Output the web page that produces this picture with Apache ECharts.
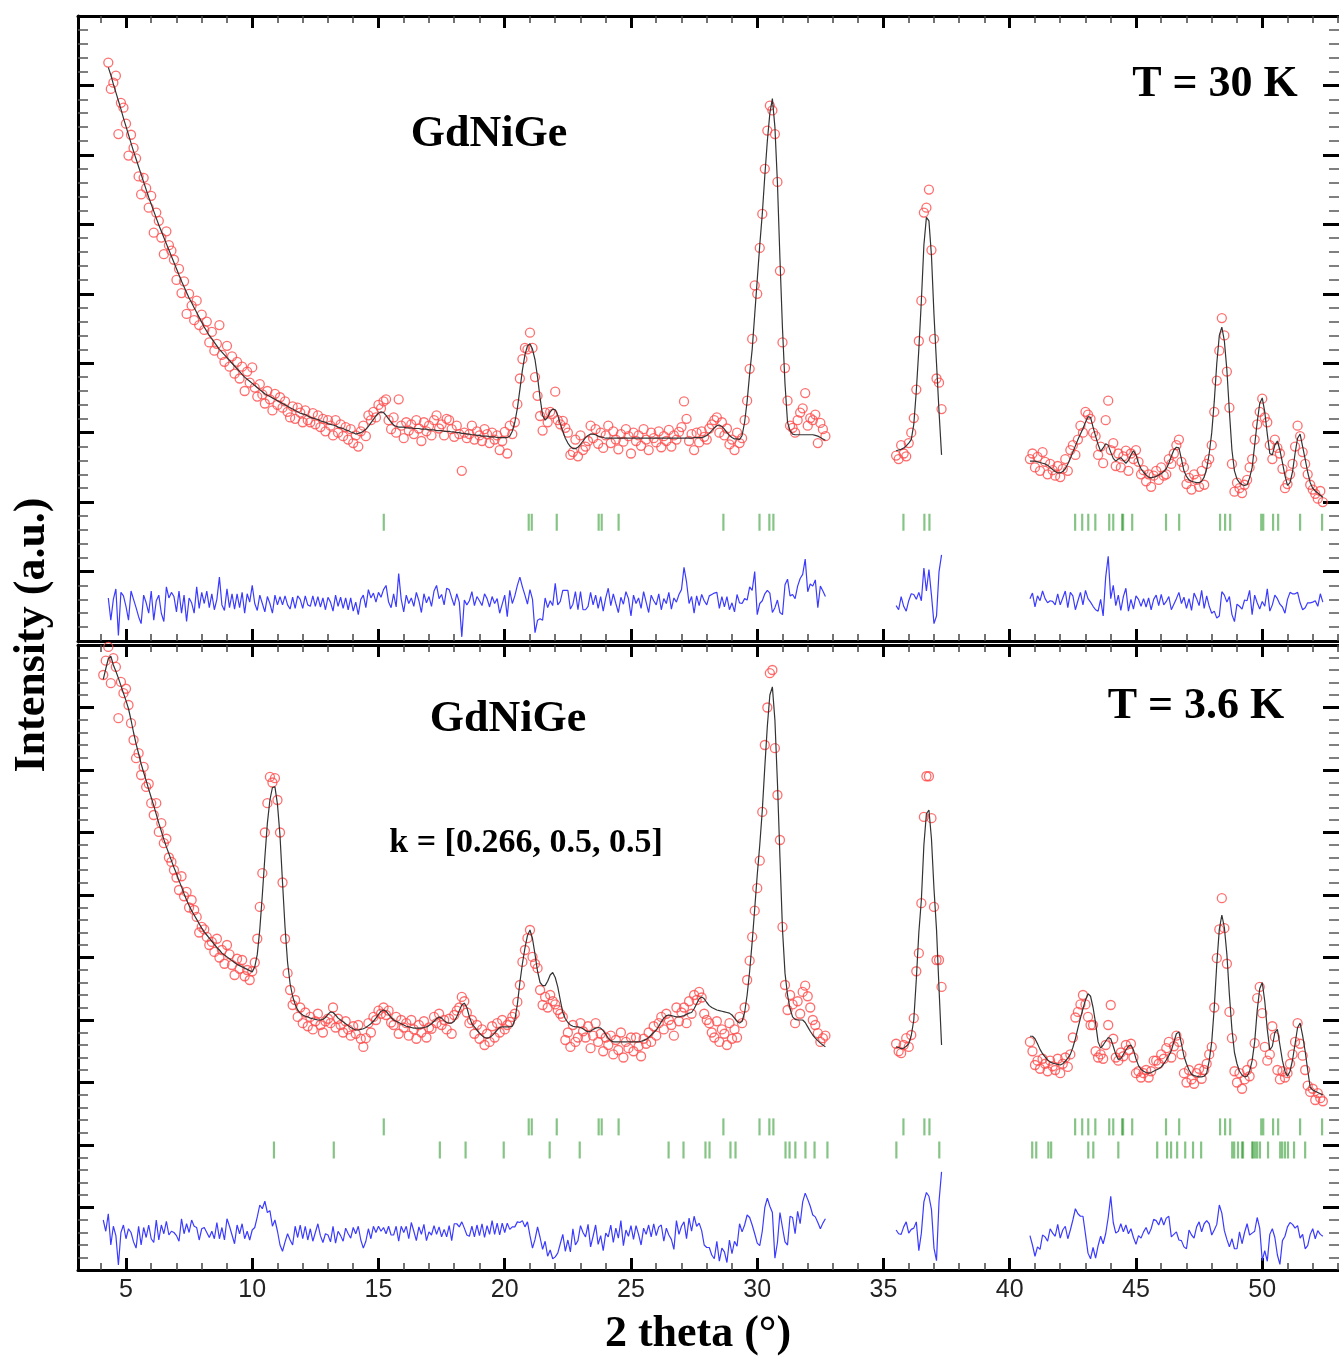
<!DOCTYPE html>
<html>
<head>
<meta charset="utf-8">
<script src="https://cdn.jsdelivr.net/npm/echarts@6/dist/echarts.min.js"></script>
<style>html,body{margin:0;padding:0;background:#fff}#c{width:1339px;height:1360px}</style>
</head>
<body>
<div id="c"></div>
<script>
// ---------------- DATA ----------------
const STEP = 0.1;
const TOP_START = [4.3, 35.5, 40.8];
const BOT_START = [4.1, 35.5, 40.8];
const X_MAJOR = [5, 10, 15, 20, 25, 30, 35, 40, 45, 50];
const X_MINOR = [4,6,7,8,9,11,12,13,14,16,17,18,19,21,22,23,24,26,27,28,29,31,32,33,34,36,37,38,39,41,42,43,44,46,47,48,49,51,52,53];

// T = 30 K panel
const topObs1 = [
833,795,804,814,730,775,768,745,699,729,
710,695,669,643,667,652,624,641,588,617,
605,581,557,590,570,562,549,520,536,501,
518,471,500,483,462,490,455,470,448,460,
430,445,418,428,455,412,402,425,395,410,
385,402,378,395,360,388,372,394,365,352,
370,355,342,360,348,332,356,340,351,336,
345,330,322,338,320,336,329,315,332,318,
315,328,312,325,308,320,302,318,310,296,
318,300,312,295,308,290,305,285,296,280,
302,310,295,325,318,330,322,340,335,345,
348,318,305,322,300,348,310,292,315,303,
312,298,318,306,288,315,302,310,296,318,
325,306,312,296,320,318,305,294,310,298,
245,300,292,298,310,290,302,296,288,305,
298,285,300,290,296,275,288,301,270,310,
298,315,341,378,406,422,420,444,422,380,
353,324,303,329,315,330,327,359,318,312,
317,307,300,268,272,290,266,296,275,280,
288,310,292,305,284,300,278,296,310,285,
302,290,276,298,287,305,295,270,300,288,
296,281,305,290,275,300,292,286,302,279,
295,288,304,280,296,290,301,308,345,320,
288,298,275,300,286,302,294,290,306,312,
318,322,300,315,296,306,283,290,275,300,
285,292,318,346,392,435,512,500,566,615,
680,735,771,764,730,661,533,430,393,346,
310,307,300,318,329,335,357,310,321,318,
326,285,314,305,295];
const topCalc1 = [
826,815,802,790,778,766,753,741,729,717,
705,694,683,672,661,650,639,629,619,609,
599,590,581,572,563,554,545,536,527,518,
510,502,494,487,480,473,466,459,452,446,
440,435,430,425,420,416,412,408,404,400,
396,392,388,384,380,377,374,371,368,365,
362,359,356,354,352,350,348,346,344,342,
340,338,336,334,332,330,328,327,326,324,
322,321,320,319,317,316,315,313,312,311,
310,308,307,306,304,303,301,300,298,299,
300,302,305,309,314,319,324,328,330,329,
325,320,315,311,309,308,308,308,307,307,
307,306,306,306,305,305,305,304,304,304,
303,303,303,302,302,302,301,301,300,300,
299,299,298,298,297,297,296,296,295,295,
295,294,294,294,293,293,293,293,293,295,
302,315,335,362,390,412,425,428,420,405,
380,350,325,318,322,330,334,333,325,313,
302,292,285,280,277,277,279,283,288,293,
296,298,298,297,295,294,293,292,292,292,
292,292,292,292,292,292,292,292,292,292,
292,292,292,292,292,292,292,292,292,292,
292,292,292,292,292,292,292,292,292,292,
292,292,293,293,293,293,294,296,299,303,
307,310,311,309,305,300,296,293,291,291,
290,296,315,345,385,420,470,520,570,615,
670,720,760,781,740,660,550,450,370,315,
303,298,297,297,297,297,297,297,297,297,
296,295,293,291,289];
const topDiff1 = [
62,30,60,75,8,70,65,50,30,72,
60,48,35,25,66,55,40,72,30,58,
66,40,28,78,62,70,64,42,72,40,
66,28,62,55,40,78,47,70,54,72,
48,68,45,60,92,52,44,75,48,68,
46,68,48,70,40,68,56,80,54,44,
66,54,42,64,54,40,66,52,64,52,
65,52,46,63,47,65,60,47,65,52,
50,65,50,64,49,62,45,63,56,43,
66,50,63,47,62,45,62,43,56,38,
60,66,48,74,62,69,56,70,63,74,
80,56,48,68,49,97,60,42,66,54,
62,50,70,58,41,68,55,64,50,72,
80,61,67,52,76,74,62,51,68,56,
6,59,52,58,71,51,64,58,51,68,
61,49,64,54,61,40,53,66,35,73,
54,65,80,92,78,66,53,74,60,12,
30,32,30,62,48,58,51,83,52,57,
73,73,73,46,53,71,45,71,45,45,
50,70,52,66,47,64,43,62,76,51,
68,54,41,63,53,71,61,36,66,54,
62,47,71,56,41,66,58,52,68,45,
61,54,70,46,62,56,67,74,106,85,
54,64,40,65,51,67,58,52,65,67,
69,70,47,64,49,64,45,55,42,67,
55,54,61,59,78,73,100,38,54,58,
68,73,69,41,48,59,41,38,81,89,
65,67,61,79,90,96,118,71,82,79,
88,48,79,72,64];
const topObs2 = [267,262,282,270,266,285,300,321,362,432,490,617,624,650,563,435,378,372,334];
const topCalc2 = [274,275,276,278,281,285,290,312,360,420,490,570,610,605,555,470,400,330,268];
const topDiff2 = [51,45,64,50,43,58,68,67,60,70,58,105,72,103,66,25,36,100,124];
const topObs3 = [
262,270,250,265,245,272,258,240,255,246,
238,252,236,248,262,245,275,282,268,290,
310,300,330,326,320,300,295,268,280,256,
318,346,275,285,252,270,250,266,274,245,
270,262,275,258,240,246,230,240,222,238,
245,232,250,238,240,262,255,270,282,290,
258,250,226,235,218,240,232,222,245,225,
255,262,282,330,375,418,465,440,388,336,
255,215,228,220,213,225,232,250,262,290,
312,330,349,322,315,282,262,290,278,270,
248,220,226,240,255,280,310,295,272,255,
240,225,218,212,205,216,200];
const topCalc3 = [
259,259,259,258,257,256,255,253,250,247,
244,242,242,244,248,255,263,272,281,290,
298,306,315,323,322,308,295,283,273,278,
284,282,272,263,259,262,264,260,256,260,
268,274,268,256,248,243,239,236,235,236,
237,239,241,244,248,256,266,275,279,278,
262,245,237,232,230,229,228,228,230,236,
248,270,300,345,400,440,452,432,390,330,
275,245,233,228,225,224,225,235,250,282,
315,342,350,330,298,270,268,282,288,275,
257,238,224,228,244,270,292,298,280,262,
243,228,220,216,213,210,207];
const topDiff3 = [
61,69,49,65,58,72,61,55,58,57,
52,68,52,62,72,48,70,65,45,58,
70,52,73,61,56,50,45,43,60,36,
92,122,61,80,51,66,44,64,76,43,
60,46,65,60,50,61,49,62,45,60,
66,51,67,52,57,64,45,53,61,70,
54,63,47,61,44,69,61,51,73,47,
65,50,40,43,33,36,71,66,56,64,
38,28,53,50,46,59,58,73,38,66,
55,46,57,50,75,43,52,66,61,53,
49,40,60,70,68,68,70,55,45,48,
55,55,56,58,50,68,56];

// T = 3.6 K panel
const botObs1 = [
952,975,997,939,979,965,883,941,923,930,
904,875,848,819,827,792,805,773,778,747,
728,747,701,715,683,690,660,653,640,628,
608,630,598,605,580,592,576,565,540,549,
545,533,520,525,509,530,500,512,490,520,
505,488,472,498,482,496,470,480,464,478,
492,530,581,635,700,747,789,780,787,752,
700,620,530,475,448,424,432,405,420,395,
412,390,405,385,398,410,392,380,398,402,
395,420,388,402,392,380,398,385,375,390,
378,392,370,357,371,395,380,405,400,415,
410,420,408,415,396,392,405,378,400,388,
395,375,400,385,370,392,380,398,372,388,
386,405,395,410,392,400,385,402,378,408,
415,420,437,430,412,395,400,378,392,370,
385,360,378,365,390,372,395,380,400,385,
392,397,405,410,429,456,493,512,531,544,
501,490,483,448,424,437,420,440,430,425,
416,410,405,368,380,357,392,365,372,395,
382,372,390,355,375,395,365,378,350,372,
360,375,345,368,352,380,340,365,355,372,
350,372,358,342,370,362,380,365,390,375,
395,405,385,410,400,392,375,420,398,412,
420,395,430,410,440,432,445,436,410,400,
395,380,372,398,365,385,378,360,395,370,
385,372,405,395,420,464,495,533,575,611,
655,733,840,900,955,960,835,760,688,549,
456,416,440,425,395,430,410,445,455,438,
420,400,392,379,365,371,375];
const botCalc1 = [
945,962,978,982,968,958,947,935,923,911,
898,880,860,842,826,810,796,783,769,756,
743,729,715,702,689,677,666,655,644,634,
623,613,602,592,583,575,568,561,554,547,
541,536,531,526,521,516,512,507,504,501,
498,495,492,489,487,485,483,481,479,477,
485,505,545,600,660,715,752,772,773,745,
695,620,548,492,458,438,425,416,411,408,
406,405,403,402,401,400,400,401,404,409,
413,412,408,403,400,397,394,391,388,386,
384,384,385,386,388,391,394,398,403,409,
414,416,414,409,404,400,398,396,394,392,
390,389,388,387,387,387,387,388,389,391,
394,398,402,405,403,399,396,395,395,398,
405,415,424,427,420,405,394,389,384,379,
375,372,371,372,375,379,384,388,389,389,
389,389,390,400,425,460,490,515,535,544,
530,505,478,460,455,455,462,472,476,468,
453,432,412,402,396,392,390,389,389,388,
386,383,381,382,385,387,388,387,383,377,
371,367,365,365,365,365,365,365,365,365,
365,365,365,366,367,369,372,376,380,384,
390,397,403,407,408,407,406,405,405,406,
407,409,411,412,418,426,434,437,434,428,
423,420,418,416,415,414,413,412,411,408,
403,398,395,398,412,440,478,525,578,632,
680,735,805,870,920,933,880,780,660,545,
475,440,418,405,401,400,400,400,396,389,
382,376,371,367,363,360,357];
const botDiff1 = [
80,62,90,40,70,55,8,60,72,50,
66,60,45,35,70,40,68,52,72,50,
44,80,48,72,58,78,56,62,60,55,
46,82,58,74,60,80,70,68,48,66,
68,60,52,62,50,76,50,68,48,82,
70,56,42,72,58,74,50,62,48,64,
68,85,104,98,110,92,95,70,80,62,
40,30,45,58,48,40,70,52,72,50,
70,48,66,46,60,74,55,44,58,56,
45,70,43,62,55,46,67,58,51,68,
58,70,48,35,46,66,50,70,60,70,
62,68,58,70,56,56,70,46,70,60,
70,50,76,62,47,69,57,73,47,61,
56,71,57,69,53,65,53,71,47,74,
74,69,77,67,56,54,70,53,72,55,
74,52,71,57,79,57,75,56,75,60,
75,65,69,69,77,76,79,69,77,55,
35,49,69,52,33,46,22,32,18,21,
27,42,57,30,48,29,66,40,47,71,
60,53,73,37,54,72,41,55,31,59,
53,72,44,67,51,79,39,64,54,71,
49,71,57,40,67,57,72,53,74,55,
69,72,46,67,56,49,33,79,57,70,
77,50,83,62,86,70,75,63,40,36,
36,24,18,46,14,35,29,12,48,26,
46,38,74,61,72,88,84,72,58,43,
39,62,100,115,102,92,19,44,92,68,
45,40,86,84,58,94,74,109,123,113,
102,88,85,76,66,75,82];
const botObs2 = [362,350,347,360,371,357,376,403,478,507,587,725,790,790,723,581,496,496,453];
const botCalc2 = [357,356,354,355,358,362,375,400,465,540,592,680,730,736,690,610,545,450,360];
const botDiff2 = [64,58,57,69,77,59,65,67,77,31,59,109,124,118,97,35,15,110,157];
const botObs3 = [
365,350,328,335,322,338,330,318,335,326,
320,338,315,330,340,325,345,372,404,413,
425,440,425,405,392,392,350,340,345,338,
360,392,424,370,340,335,348,342,360,352,
362,340,315,318,308,315,320,308,318,335,
335,330,345,338,355,365,340,358,375,365,
345,315,300,320,305,298,315,322,306,320,
330,345,357,420,499,545,595,547,490,413,
371,318,300,315,290,305,320,310,330,363,
435,453,411,357,335,345,390,373,320,305,
318,308,315,330,345,365,395,362,343,320,
295,285,290,272,283,275,270];
const botCalc3 = [
374,374,370,362,353,346,341,336,333,331,
330,329,328,330,334,339,345,356,370,387,
403,418,432,442,438,420,395,365,355,360,
366,372,370,358,345,337,338,345,352,358,
360,352,338,327,321,318,316,315,316,318,
320,322,325,330,336,343,351,365,378,381,
362,342,330,320,313,311,310,309,309,310,
315,335,365,420,490,545,568,548,505,440,
385,348,330,318,312,309,310,318,335,365,
415,450,460,430,385,352,358,380,385,360,
335,318,310,318,336,362,388,395,375,350,
320,292,288,286,284,282,280];
const botDiff3 = [
55,40,22,37,33,56,53,46,66,59,
54,73,51,64,70,50,64,80,98,90,
86,86,57,27,18,36,19,39,54,42,
58,84,118,76,59,62,74,61,72,58,
66,52,41,55,51,61,68,57,66,81,
79,72,84,72,83,86,53,57,61,48,
47,37,34,64,56,51,69,77,61,74,
79,74,56,64,73,104,91,63,49,37,
50,34,34,61,42,60,74,56,59,62,
84,67,15,31,14,57,66,52,24,9,
47,54,69,76,73,67,71,51,57,34,
39,57,66,50,63,57,54];

// Bragg reflection positions (2θ)
const nuclearPeaks = [15.21,20.95,21.07,22.06,23.72,23.84,24.51,28.66,30.09,30.48,30.64,35.79,36.62,36.82,42.59,42.87,43.11,43.39,43.94,44.10,44.45,44.49,44.85,46.19,46.71,48.33,48.53,48.73,49.96,50.04,50.43,50.63,51.50,52.37];
const magneticPeaks = [10.86,13.23,17.43,18.45,19.96,21.78,22.97,26.49,27.08,27.95,28.11,28.94,29.14,31.12,31.28,31.51,31.91,32.27,32.78,35.51,37.21,40.89,41.05,41.53,41.64,43.11,43.31,44.30,45.84,46.23,46.39,46.63,46.95,47.26,47.58,48.81,48.89,49.04,49.20,49.24,49.60,49.64,49.72,49.80,49.91,50.23,50.71,50.79,50.90,51.02,51.26,51.70];

// ---------------- CHART ----------------
const XMIN = 3.1, XMAX = 53.04;
const TOP_TICKROW = 171, BOT_TICKROW1 = 229, BOT_TICKROW2 = 192;

function seg(start, vals) { return vals.map((v, i) => [+(start + i * STEP).toFixed(2), v]); }

function xAxes(grid, showLabels) {
  const base = {type: 'value', gridIndex: grid, min: XMIN, max: XMAX, splitLine: {show: false}};
  const lab = {show: false};
  return [
    Object.assign({}, base, {position: 'bottom',
      axisLine: {show: true, onZero: false, lineStyle: {color: '#000', width: 3}},
      axisTick: {show: true, inside: true, length: 12, lineStyle: {color: '#000', width: 3}, customValues: X_MAJOR},
      axisLabel: showLabels ? {show: true, customValues: X_MAJOR, fontFamily: 'Liberation Sans', fontSize: 25, color: '#222', margin: 8} : lab}),
    Object.assign({}, base, {position: 'bottom',
      axisLine: {show: false, onZero: false},
      axisTick: {show: true, inside: true, length: 7, lineStyle: {color: '#444', width: 1.5}, customValues: X_MINOR},
      axisLabel: lab}),
    Object.assign({}, base, {position: 'top',
      axisLine: {show: true, onZero: false, lineStyle: {color: '#000', width: 3}},
      axisTick: {show: true, inside: true, length: 12, lineStyle: {color: '#000', width: 3}, customValues: X_MAJOR},
      axisLabel: lab}),
    Object.assign({}, base, {position: 'top',
      axisLine: {show: false, onZero: false},
      axisTick: {show: true, inside: true, length: 7, lineStyle: {color: '#444', width: 1.5}, customValues: X_MINOR},
      axisLabel: lab})
  ];
}
function yAxes(grid, max) {
  const mk = (pos, line) => ({type: 'value', gridIndex: grid, min: 0, max: max, interval: 100, position: pos,
    axisLine: {show: line, onZero: false, lineStyle: {color: '#000', width: 3}},
    axisTick: {show: true, inside: true, length: 16, lineStyle: {color: '#000', width: 3}},
    minorTick: {show: true, splitNumber: 5, length: 10, lineStyle: {color: '#555', width: 1.5}},
    axisLabel: {show: false}, splitLine: {show: false}});
  return [mk('left', true), mk('right', false)];
}

function panelSeries(xi, yi, starts, obs, calc, diff) {
  const s = [];
  s.push({type: 'scatter', xAxisIndex: xi, yAxisIndex: yi, symbol: 'circle', symbolSize: 9, z: 2,
    itemStyle: {color: 'rgba(255,255,255,0)', borderColor: '#ff4a4a', borderWidth: 1.3},
    data: seg(starts[0], obs[0]).concat(seg(starts[1], obs[1]), seg(starts[2], obs[2]))});
  for (let k = 0; k < 3; k++) {
    s.push({type: 'line', xAxisIndex: xi, yAxisIndex: yi, showSymbol: false, symbol: 'none', z: 3,
      lineStyle: {color: '#333', width: 1.2}, data: seg(starts[k], calc[k])});
    s.push({type: 'line', xAxisIndex: xi, yAxisIndex: yi, showSymbol: false, symbol: 'none', z: 3,
      lineStyle: {color: '#3b3bff', width: 1.2}, data: seg(starts[k], diff[k])});
  }
  return s;
}
function braggSeries(xi, yi, peaks, level) {
  return {type: 'scatter', xAxisIndex: xi, yAxisIndex: yi, symbol: 'rect', symbolSize: [2.2, 17], z: 2,
    itemStyle: {color: 'rgba(40,150,40,0.7)'}, data: peaks.map(p => [p, level])};
}

const series = []
  .concat(panelSeries(0, 0, TOP_START, [topObs1, topObs2, topObs3], [topCalc1, topCalc2, topCalc3], [topDiff1, topDiff2, topDiff3]))
  .concat([braggSeries(0, 0, nuclearPeaks, TOP_TICKROW)])
  .concat(panelSeries(4, 2, BOT_START, [botObs1, botObs2, botObs3], [botCalc1, botCalc2, botCalc3], [botDiff1, botDiff2, botDiff3]))
  .concat([braggSeries(4, 2, nuclearPeaks, BOT_TICKROW1), braggSeries(4, 2, magneticPeaks, BOT_TICKROW2)]);

const serif = '"Liberation Serif","Times New Roman",serif';
function txt(x, y, s, size, rot) {
  return {type: 'text', x: x, y: y, rotation: rot || 0, z: 10,
    style: {text: s, font: 'bold ' + size + 'px ' + serif, fill: '#000', textAlign: 'center', textVerticalAlign: 'middle'}};
}

const chart = echarts.init(document.getElementById('c'), null, {renderer: 'canvas'});
chart.setOption({
  animation: false,
  backgroundColor: '#fff',
  grid: [
    {left: 78, top: 16, width: 1262, height: 625},
    {left: 78, top: 645, width: 1262, height: 625}
  ],
  xAxis: xAxes(0, false).concat(xAxes(1, true)),
  yAxis: yAxes(0, 900).concat(yAxes(1, 1000)),
  series: series,
  graphic: [
    txt(489, 135, 'GdNiGe', 44),
    txt(1215, 85, 'T = 30 K', 44),
    txt(508, 720, 'GdNiGe', 44),
    txt(1196, 707, 'T = 3.6 K', 44),
    txt(526, 843, 'k = [0.266, 0.5, 0.5]', 34),
    txt(33, 635, 'Intensity (a.u.)', 44, Math.PI / 2),
    txt(698, 1335, '2 theta (°)', 44)
  ]
});
</script>
</body>
</html>
